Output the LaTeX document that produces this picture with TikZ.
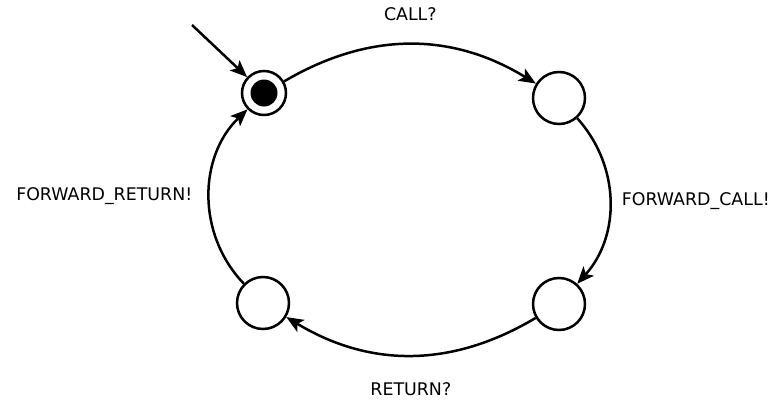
\documentclass[tikz,border=0pt]{standalone}
\usepackage{fontspec}
\setmainfont{DejaVu Sans}
\usetikzlibrary{arrows.meta}

\begin{document}
\begin{tikzpicture}[x=1pt, y=1pt, line width=2.5pt,
                    every node/.style={font=\fontsize{17.4}{21}\selectfont},
                    state/.style={circle, draw, fill=white, minimum size=52pt, inner sep=0},
                    firststate/.style={circle, draw, fill=white, minimum size=44pt, inner sep=0},
                    trans/.style={-{Stealth[length=17pt, width=14pt, inset=4pt]}},
                    lbl/.style={inner sep=0}]
                        \useasboundingbox (0,0) rectangle (773,400);
                        % states
                        \node[firststate] (s0) at (264,307) {};
                        \fill (s0.center) circle (13.5);
                        \node[state] (s1) at (559,302) {};
                        \node[state] (s2) at (559,96) {};
                        \node[state] (s3) at (263,97) {};
                        % initial arrow
                        \coordinate (init) at (192,375);
                        \draw[trans] (init) -- (s0);
                        % transitions
                        \draw[trans] (s0) to[bend left=31] node[lbl, midway, above=22pt] {CALL?} (s1);
                        \draw[trans] (s1) to[bend left=42] node[lbl, midway, right=11pt] {FORWARD\_CALL!} (s2);
                        \draw[trans] (s2) to[bend left=31] node[lbl, midway, below=26pt] {RETURN?} (s3);
                        \draw[trans] (s3) to[bend left=45] node[lbl, midway, left=16pt] {FORWARD\_RETURN!} (s0);
                    \end{tikzpicture}
\end{document}
